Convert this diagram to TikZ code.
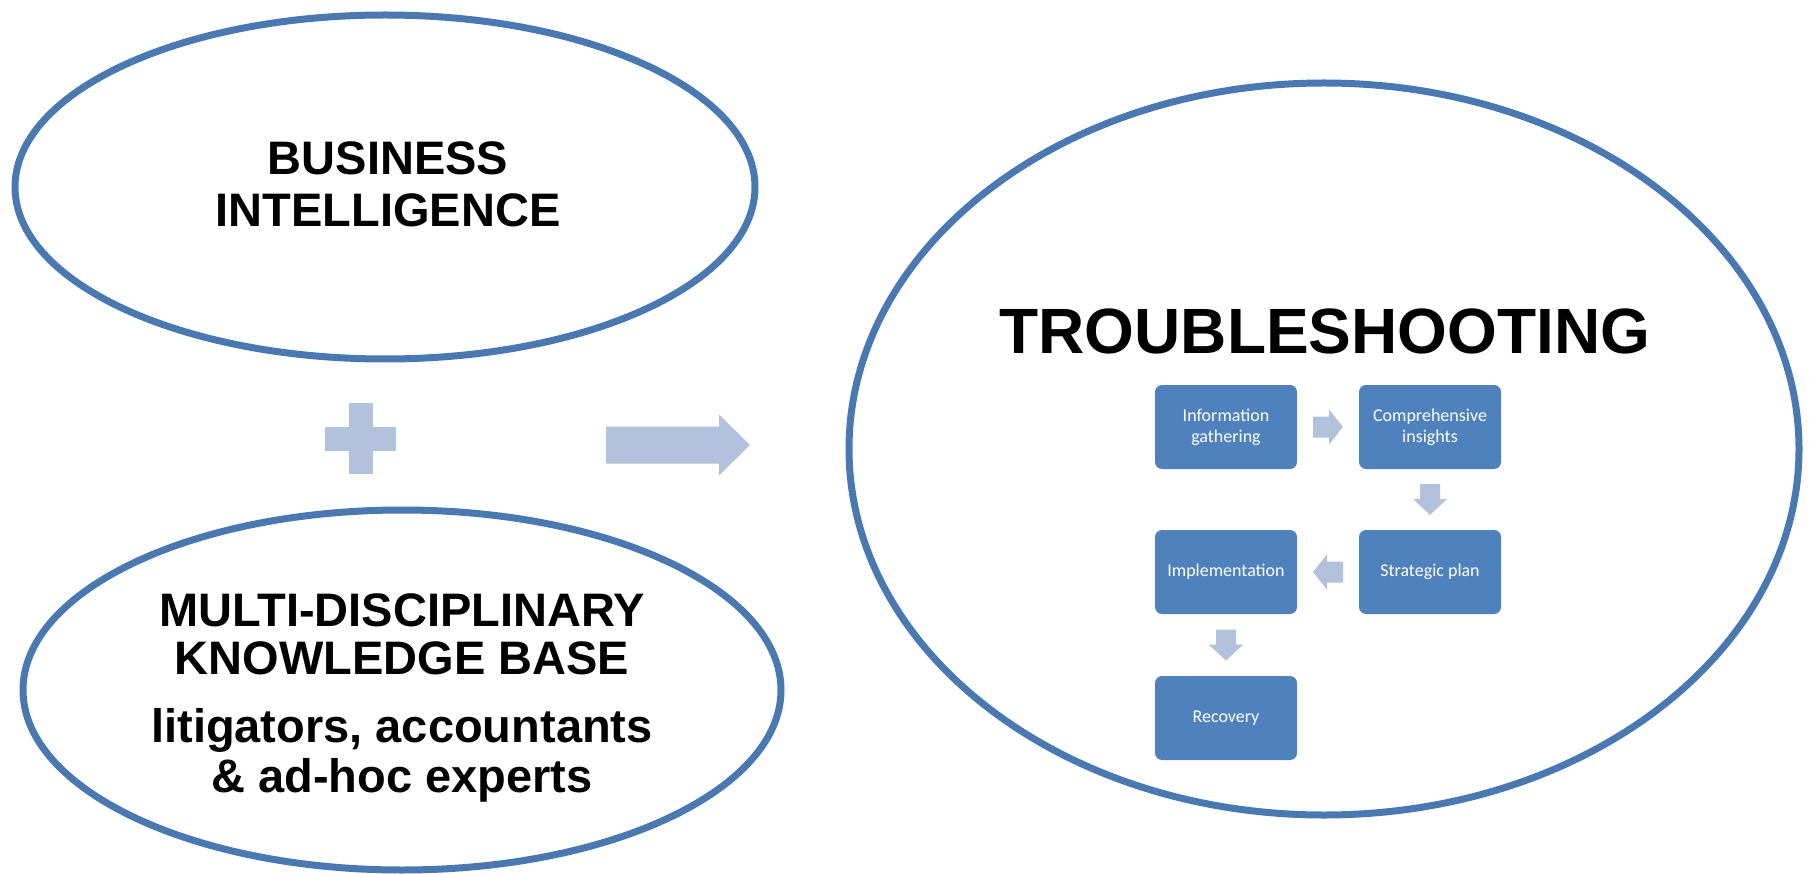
\documentclass[tikz,border=0pt]{standalone}
\usepackage{fontspec}
\setmainfont{Liberation Sans}
\newfontfamily\boxfont{Carlito}
\usetikzlibrary{shapes.geometric,calc}
\definecolor{ellc}{RGB}{74,120,176}
\definecolor{boxc}{RGB}{79,129,189}
\definecolor{arrc}{RGB}{178,194,221}
\tikzset{
  bigell/.style={ellipse, draw=ellc, line width=7, inner sep=0},
  bigtxt/.style={anchor=base, inner sep=0, font=\fontsize{47}{52}\selectfont\bfseries},
  stepbox/.style={rectangle, rounded corners=7, fill=boxc, minimum width=142, minimum height=84, inner sep=0, text=white, align=center, font=\boxfont\fontsize{18}{21}\selectfont},
  blockarr/.style={fill=arrc, draw=none},
}
% #1 centre, #2 rotation, #3 length, #4 shaft width, #5 head width, #6 head length
\newcommand{\blockarrow}[6]{%
  \fill[blockarr, shift={(#1)}, rotate=#2]
    (-#3/2,-#4/2) -- (#3/2-#6,-#4/2) -- (#3/2-#6,-#5/2) -- (#3/2,0)
    -- (#3/2-#6,#5/2) -- (#3/2-#6,#4/2) -- (-#3/2,#4/2) -- cycle;}
\begin{document}
\begin{tikzpicture}[x=1pt,y=-1pt]
\useasboundingbox (0,0) rectangle (1809,874);
% ellipses
\node[bigell, minimum width=740, minimum height=344] (bi) at (385,187) {};
\node[bigell, minimum width=758, minimum height=360] (mkb) at (402,690) {};
\node[bigell, minimum width=950, minimum height=732] (ts) at (1324,449) {};
% texts
\node[bigtxt] (bi1) at (388,175) {BUSINESS};
\node[bigtxt] (bi2) at (388,227) {INTELLIGENCE};
\node[bigtxt] (mk1) at (402,626) {MULTI-DISCIPLINARY};
\node[bigtxt] (mk2) at (402,674) {KNOWLEDGE BASE};
\node[bigtxt] (mk3) at (402,742) {litigators, accountants};
\node[bigtxt] (mk4) at (402,792) {\&\ ad-hoc experts};
\node[anchor=base, inner sep=0, font=\fontsize{64}{70}\selectfont\bfseries] (tt) at (1325,354) {TROUBLESHOOTING};
% plus
\coordinate (plus) at (360.5,438.5);
\fill[arrc] ($(plus)+(-12,-35.5)$) rectangle ($(plus)+(12,35.5)$);
\fill[arrc] ($(plus)+(-35.5,-12)$) rectangle ($(plus)+(35.5,12)$);
% big arrow
\coordinate (big) at (678,445);
\blockarrow{big}{0}{144}{37}{61}{31}
% flow boxes
\node[stepbox] (info) at (1226,427) {Information\\gathering};
\node[stepbox] (comp) at (1430,427) {Comprehensive\\insights};
\node[stepbox] (strat) at (1430,572) {Strategic plan};
\node[stepbox] (impl) at (1226,572) {Implementation};
\node[stepbox] (rec) at (1226,718) {Recovery};
% flow arrows
\coordinate (a1) at ($(info.east)!0.5!(comp.west)$);
\coordinate (a2) at ($(comp.south)!0.5!(strat.north)$);
\coordinate (a3) at ($(strat.west)!0.5!(impl.east)$);
\coordinate (a4) at ($(impl.south)!0.5!(rec.north)$);
\blockarrow{a1}{0}{30}{21}{35}{14}
\blockarrow{a2}{-90}{31}{20}{34}{16}
\blockarrow{a3}{180}{30}{21}{35}{14}
\blockarrow{a4}{-90}{31}{20}{35}{16}
\end{tikzpicture}
\end{document}
